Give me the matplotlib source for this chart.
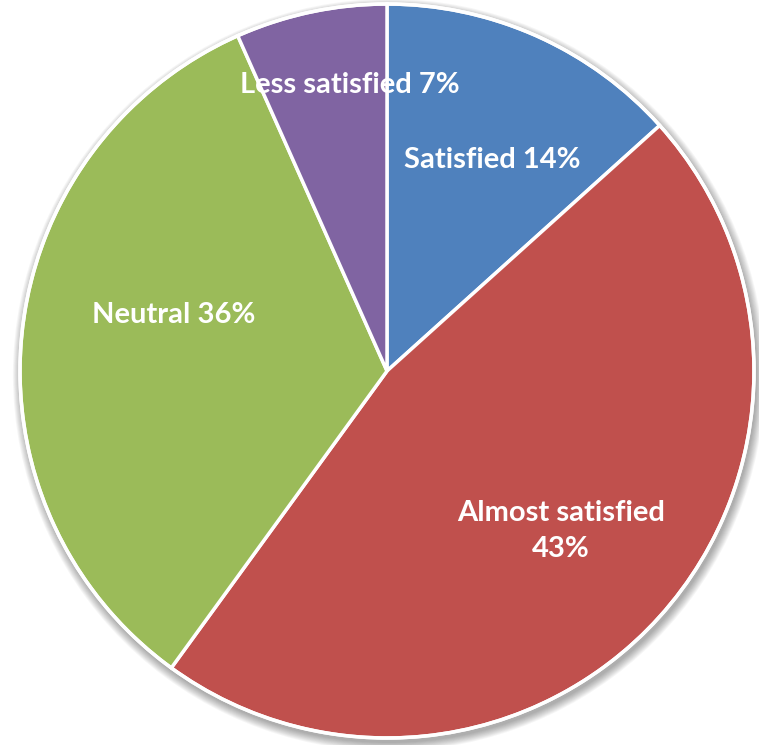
import matplotlib
matplotlib.use("Agg")
import matplotlib.pyplot as plt
from matplotlib.patches import Circle

# data
categories = ["Satisfied", "Almost satisfied", "Neutral", "Less satisfied"]
values = [2, 7, 5, 1]
label_texts = ["Satisfied 14%", "Almost satisfied\n43%", "Neutral 36%", "Less satisfied 7%"]
colors = ["#4F81BD", "#C0504D", "#9BBB59", "#8064A2"]

W, H = 759, 745
fig = plt.figure(figsize=(W / 100, H / 100), dpi=100)
ax = fig.add_axes([0, 0, 1, 1])
ax.set_xlim(0, W)
ax.set_ylim(0, H)
ax.set_aspect("equal")
ax.axis("off")

cx, cy, r = 387, 745 - 371, 367

# soft shadow
for i in range(10):
    ax.add_patch(Circle((cx + 2, cy - 4), r + 1 + i * 0.9, color="#000000",
                        alpha=0.035, lw=0, zorder=0))

wedges, _ = ax.pie(values, colors=colors, startangle=90, counterclock=False,
                   center=(cx, cy), radius=r, frame=True,
                   wedgeprops=dict(edgecolor="white", linewidth=2.5))
ax.set_xlim(0, W)
ax.set_ylim(0, H)
ax.axis("off")
for w in wedges:
    w.set_zorder(2)
ax.add_patch(Circle((cx, cy), r, fill=False, ec="white", lw=2.5, zorder=3))

# label placement (layout)
label_pos = [(492, 160), (561, 531), (174, 315), (350, 85)]
for txt, (x, y) in zip(label_texts, label_pos):
    ax.text(x, H - y, txt, ha="center", va="center", color="white",
            fontsize=21, fontweight="bold", family=["Lato", "DejaVu Sans"],
            linespacing=1.45, zorder=5)

fig.savefig("out.png", dpi=100)
